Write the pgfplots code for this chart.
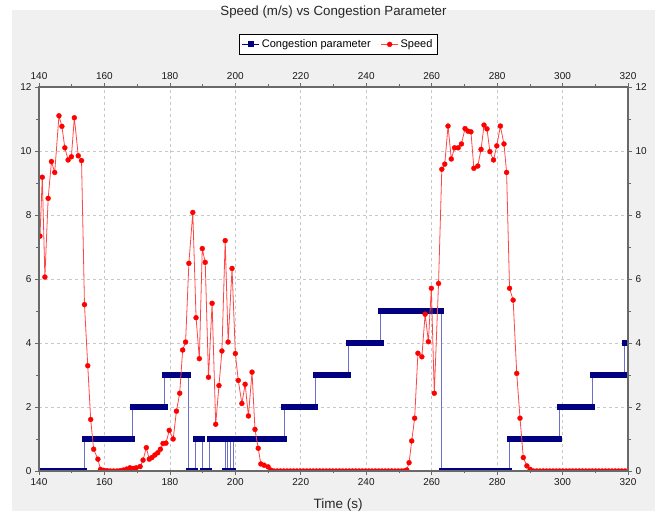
\documentclass[border=0pt]{standalone}
\usepackage{fontspec}
\setmainfont{Liberation Sans}
\usepackage{pgfplots}
\usepackage{pgfplotstable}
\pgfplotsset{compat=1.18}

\definecolor{navyc}{RGB}{0,0,128}
\definecolor{stepline}{RGB}{110,110,205}
\definecolor{spd}{RGB}{255,0,0}
\definecolor{spdline}{RGB}{255,70,70}
\definecolor{panel}{RGB}{240,240,240}
\definecolor{frame}{RGB}{105,105,105}
\definecolor{gridc}{RGB}{200,200,200}

% congestion parameter: value held from t until the next row
\pgfplotstableread{
t c
140 0
153.9 1
168.6 2
178.5 3
185.8 0
187.9 1
189.9 0
192.0 1
196.85 0
197.7 1
198.6 0
199.4 1
214.9 2
224.5 3
234.5 4
244.5 5
262.9 0
283.9 1
299.0 2
309.2 3
318.9 4
320 4
}\congestion

\pgfplotstableread{
t v
140.3 7.34
141.0 9.18
141.8 6.06
142.8 8.52
143.8 9.67
144.8 9.33
146.1 11.10
147.0 10.77
147.9 10.10
148.9 9.72
149.9 9.82
150.8 11.04
152.0 9.85
153.0 9.70
153.9 5.20
154.9 3.29
155.8 1.61
156.7 0.68
158.0 0.37
158.8 0.05
159.8 0.02
160.8 0.01
161.8 0
162.8 0
163.8 0
164.8 0.01
165.8 0.03
166.8 0.06
167.8 0.10
168.8 0.08
169.7 0.10
170.9 0.14
171.8 0.34
172.8 0.73
173.7 0.37
174.5 0.42
175.4 0.50
176.3 0.57
177.1 0.68
177.9 0.86
178.8 0.87
179.8 1.27
181.0 1.00
182.0 1.87
183.0 2.43
183.9 3.78
184.8 4.03
185.8 6.49
187.0 8.08
188.0 4.79
189.0 3.51
189.9 6.95
190.8 6.52
191.8 2.93
192.9 5.24
194.0 1.46
195.0 2.67
195.9 3.75
196.9 7.20
197.8 4.03
199.0 6.33
200.0 3.67
200.9 2.83
202.0 2.11
203.0 2.71
204.0 1.72
205.1 3.09
206.0 1.30
207.0 0.71
207.8 0.22
208.8 0.18
210.0 0.13
210.8 0.03
211.8 0
212.8 0
213.8 0
214.8 0
215.8 0
216.8 0
217.8 0
218.8 0
219.8 0
220.8 0
221.8 0
222.8 0
223.8 0
224.8 0
225.8 0
226.8 0
227.8 0
228.8 0
229.8 0
230.8 0
231.8 0
232.8 0
233.8 0
234.8 0
235.8 0
236.8 0
237.8 0
238.8 0
239.8 0
240.8 0
241.8 0
242.8 0
243.8 0
244.8 0
245.8 0
246.8 0
247.8 0
248.8 0
249.8 0
250.8 0
251.6 0
252.4 0.03
253.1 0.26
253.9 0.94
254.8 1.65
255.8 3.68
257.0 3.57
258.0 4.90
259.0 4.04
259.9 5.71
260.8 2.43
262.1 5.86
263.1 9.43
264.0 9.59
265.0 10.78
266.0 9.75
267.0 10.10
268.1 10.10
269.1 10.22
270.2 10.70
271.1 10.62
272.0 10.60
272.9 9.46
274.1 9.53
275.1 10.05
276.0 10.81
276.9 10.69
277.8 9.98
278.9 9.72
279.9 10.16
281.0 10.78
282.1 10.22
282.9 9.33
283.8 5.71
284.9 5.34
286.0 3.05
287.0 1.65
288.0 0.42
289.1 0.16
290.1 0.05
291.1 0
292.1 0
293.1 0
294.1 0
295.1 0
296.1 0
297.1 0
298.1 0
299.1 0
300.1 0
301.1 0
302.1 0
303.1 0
304.1 0
305.1 0
306.1 0
307.1 0
308.1 0
309.1 0
310.1 0
311.1 0
312.1 0
313.1 0
314.1 0
315.1 0
316.1 0
317.1 0
318.1 0
319.1 0
320.0 0
}\speed

\pgfplotsset{
  common/.style={
    scale only axis,
    width=589pt, height=384pt,
    xmin=140, xmax=320, ymin=0, ymax=12,
    xtick={140,160,...,320}, ytick={0,2,...,12},
    minor x tick num=1, minor y tick num=1,
    tick align=outside,
    major tick length=4pt, minor tick length=2.5pt,
    every tick/.style={frame, line width=0.6pt},
    axis line style={frame, line width=1.2pt},
    tick label style={font=\fontsize{10}{12}\selectfont, text=black!90},
    /pgf/number format/assume math mode=true,
  },
}

\begin{document}
\begin{tikzpicture}
\fill[panel] (-27pt,-40pt) rectangle (616pt,461pt);
\begin{axis}[
    common,
    xtick pos=left, ytick pos=left,
    xticklabel pos=left, yticklabel pos=left,
    axis background/.style={fill=white},
    xmajorgrids, ymajorgrids,
    major grid style={gridc, line width=0.6pt, dash pattern=on 3pt off 3pt},
    clip marker paths=true,
    title={Speed (m/s) vs Congestion Parameter},
    title style={at={(axis description cs:0.5,1.18)}, anchor=center,
      font=\fontsize{13.3}{15}\selectfont, text=black!85},
    xlabel={Time (s)},
    xlabel style={at={(axis description cs:0.508,-0.0885)}, anchor=center,
      font=\fontsize{13.5}{15}\selectfont, text=black!85},
    legend columns=2,
    legend style={at={(axis description cs:0.508,1.111)}, anchor=center,
      draw=black, fill=white, font=\fontsize{11}{13}\selectfont,
      inner xsep=3pt, inner ysep=3pt, line width=0.8pt,
      /tikz/every even column/.append style={column sep=8pt}},
  ]
  \addplot[const plot mark left, stepline, line width=1pt, no marks,
    legend image code/.code={
      \draw[navyc, line width=0.8pt] (0cm,0cm) -- (0.6cm,0cm);
      \fill[navyc] (0.3cm-2.5pt,-2.5pt) rectangle ++(5pt,5pt);
    }] table[x=t, y=c] {\congestion};
  \addlegendentry{Congestion parameter}
  \addplot[jump mark left, navyc, line width=5.2pt, line cap=rect, no marks,
    forget plot] table[x=t, y=c] {\congestion};
  \addplot[spdline, line width=0.8pt, mark=*, mark size=2.5pt,
    mark options={draw=spd, fill=spd, line width=0.3pt}]
    table[x=t, y=v] {\speed};
  \addlegendentry{Speed}
\end{axis}
\begin{axis}[
    common,
    xtick pos=right, ytick pos=right,
    xticklabel pos=right, yticklabel pos=right,
  ]
\end{axis}
\pgfresetboundingbox
\path (-39pt,-40pt) rectangle (626pt,471pt);
\end{tikzpicture}
\end{document}
